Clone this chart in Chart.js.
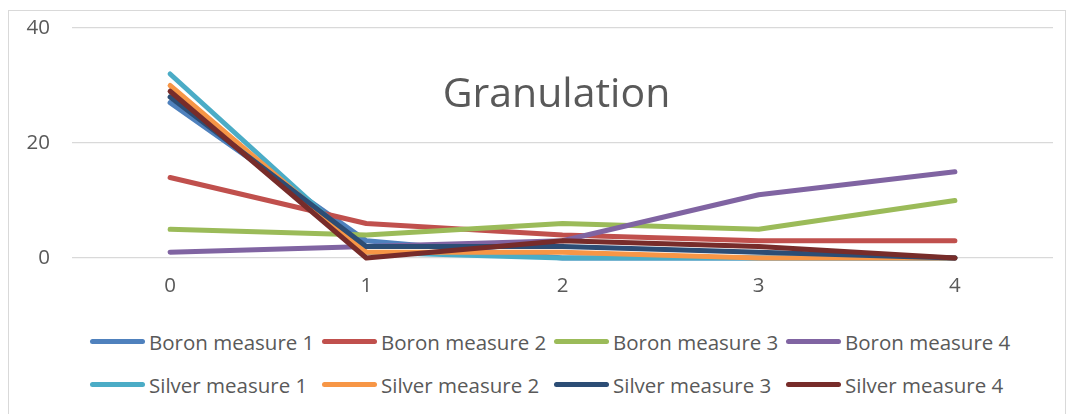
<!DOCTYPE html>
<html>
<head>
<meta charset="utf-8">
<script src="https://cdn.jsdelivr.net/npm/chart.js@4"></script>
<style>
  html, body { margin: 0; padding: 0; background: #fff; }
  #frame { position: absolute; left: 8px; top: 10px; width: 1058px; height: 420px; border: 1px solid #d9d9d9; box-sizing: border-box; }
  #c { position: absolute; left: 0; top: 0; }
  #legend { position: absolute; left: 90px; top: 320px; display: grid; grid-template-columns: repeat(4, 232px); grid-auto-rows: 43px; align-items: center; font-family: "Open Sans", sans-serif; font-size: 20.5px; color: #595959; }
  .item { display: flex; align-items: center; white-space: nowrap; }
  .swatch { display: inline-block; width: 55px; height: 5px; border-radius: 3px; margin-right: 4px; }
</style>
</head>
<body>
<div id="frame"></div>
<canvas id="c" width="1075" height="310" style="width:1075px;height:310px"></canvas>
<div id="legend"></div>
<script>
const categories = ['0', '1', '2', '3', '4'];
const seriesNames = ['Boron measure 1', 'Boron measure 2', 'Boron measure 3', 'Boron measure 4',
                     'Silver measure 1', 'Silver measure 2', 'Silver measure 3', 'Silver measure 4'];
const boron1 = [27, 3, 0, 0, 0];
const boron2 = [14, 6, 4, 3, 3];
const boron3 = [5, 4, 6, 5, 10];
const boron4 = [1, 2, 3, 11, 15];
const silver1 = [32, 1, 0, 0, 0];
const silver2 = [30, 1, 1, 0, 0];
const silver3 = [28, 2, 2, 1, 0];
const silver4 = [29, 0, 3, 2, 0];
const yTicks = [0, 20, 40];
const colors = ['#4F81BD', '#C0504D', '#9BBB59', '#8064A2', '#4BACC6', '#F79646', '#2C4D75', '#772C2A'];
const chartTitle = 'Granulation';

const seriesValues = [boron1, boron2, boron3, boron4, silver1, silver2, silver3, silver4];
const FONT = '"Open Sans", sans-serif';
const TEXT = '#595959';

const datasets = seriesValues.map((vals, i) => ({
  label: seriesNames[i],
  data: vals,
  borderColor: colors[i],
  backgroundColor: colors[i],
  borderWidth: 5,
  borderCapStyle: 'round',
  borderJoinStyle: 'round',
  pointRadius: 0,
  pointHoverRadius: 0,
  tension: 0,
  fill: false,
  clip: 10,
  order: seriesValues.length - i
}));

const titlePlugin = {
  id: 'insideTitle',
  afterDraw(chart) {
    const { ctx, chartArea } = chart;
    ctx.save();
    ctx.font = '41px ' + FONT;
    ctx.fillStyle = TEXT;
    ctx.textAlign = 'center';
    ctx.textBaseline = 'middle';
    ctx.fillText(chartTitle, (chartArea.left + chartArea.right) / 2 - 6, chartArea.top + 67);
    ctx.restore();
  }
};

const chart = new Chart(document.getElementById('c'), {
  type: 'line',
  data: { labels: categories, datasets },
  options: {
    responsive: false,
    animation: false,
    events: [],
    layout: { padding: { left: 8, right: 22, top: 28, bottom: 0 } },
    plugins: {
      legend: { display: false },
      title: { display: false },
      tooltip: { enabled: false }
    },
    scales: {
      x: {
        type: 'category',
        offset: true,
        grid: { display: false, drawTicks: false },
        border: { display: false },
        ticks: { color: TEXT, font: { family: FONT, size: 20.5 }, padding: 16 },
        afterFit(scale) { scale.height = 52; scale.paddingLeft = 0; scale.paddingRight = 0; }
      },
      y: {
        min: yTicks[0],
        max: yTicks[yTicks.length - 1],
        afterBuildTicks(scale) { scale.ticks = yTicks.map(v => ({ value: v })); },
        grid: { color: '#d9d9d9', lineWidth: 1.3, drawTicks: false },
        border: { display: false },
        ticks: { color: TEXT, font: { family: FONT, size: 20.5 }, padding: 22 },
        afterFit(scale) { scale.width = 64; scale.paddingTop = 0; scale.paddingBottom = 0; }
      }
    }
  },
  plugins: [titlePlugin]
});

// HTML legend built from the chart's datasets
const legendEl = document.getElementById('legend');
chart.data.datasets.forEach(ds => {
  const item = document.createElement('div');
  item.className = 'item';
  const sw = document.createElement('span');
  sw.className = 'swatch';
  sw.style.background = ds.borderColor;
  const txt = document.createElement('span');
  txt.textContent = ds.label;
  item.appendChild(sw);
  item.appendChild(txt);
  legendEl.appendChild(item);
});
</script>
</body>
</html>
